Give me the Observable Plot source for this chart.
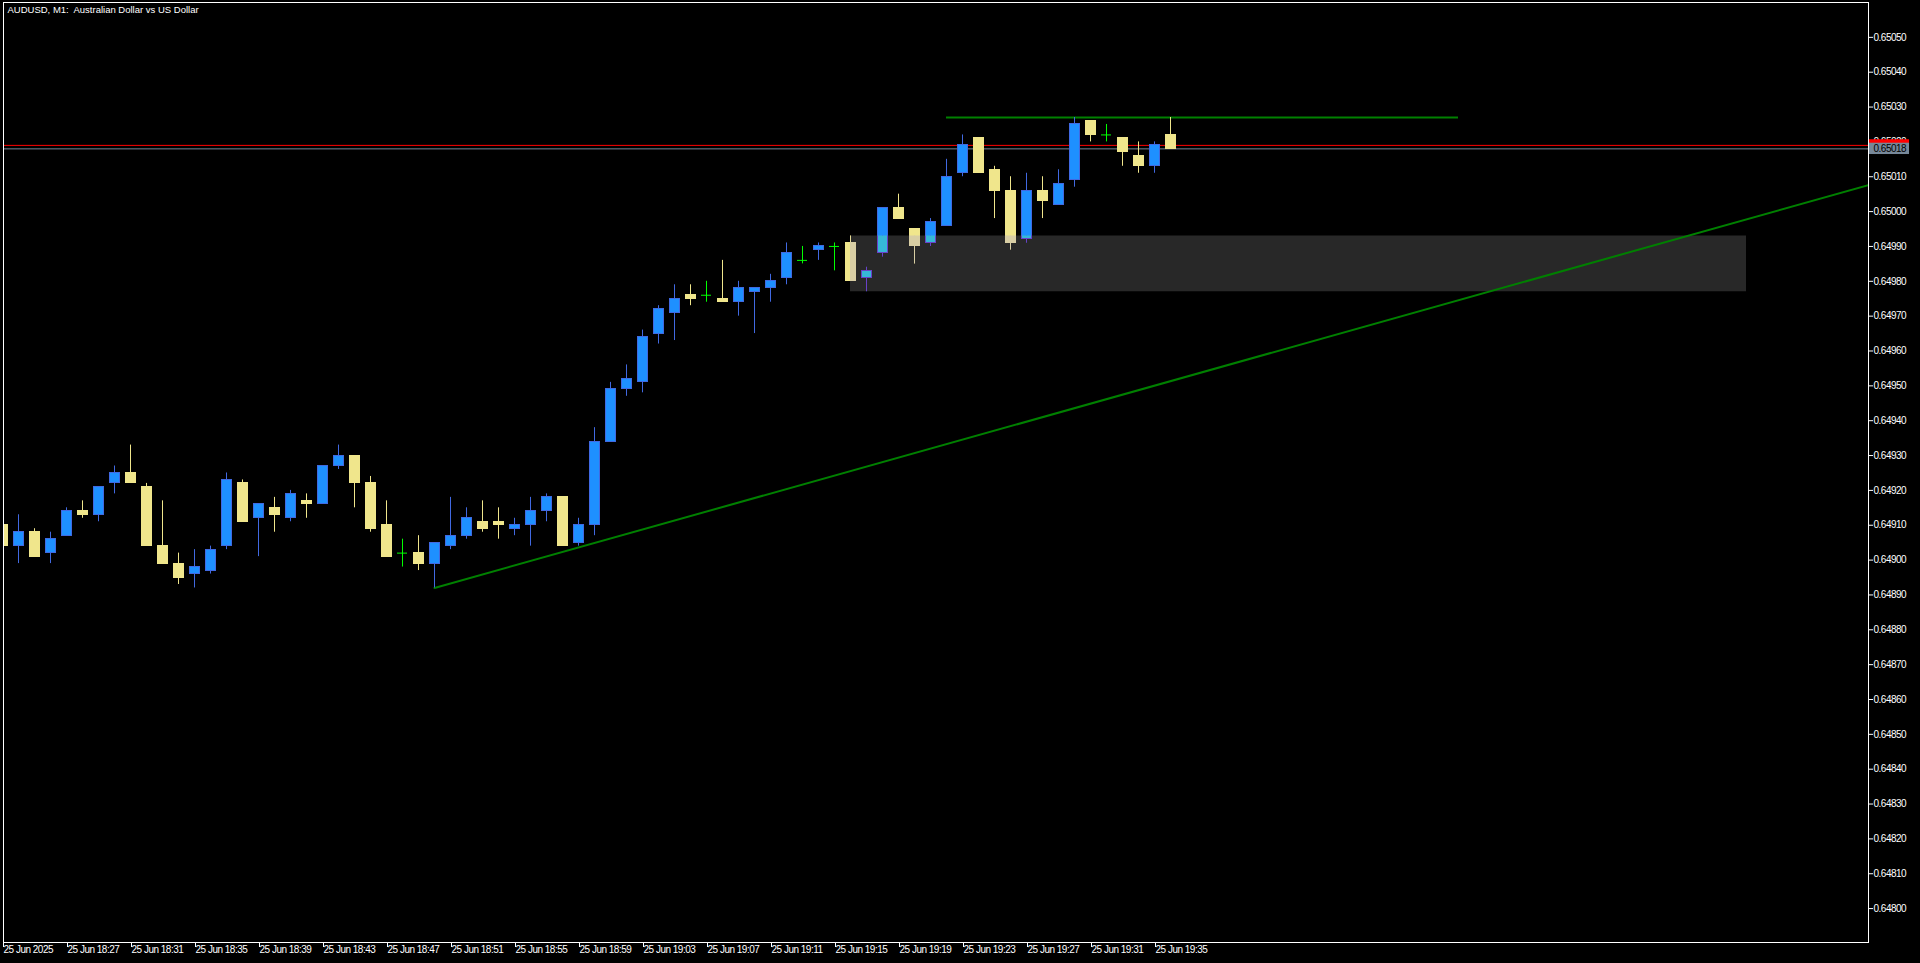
<!DOCTYPE html>
<html><head><meta charset="utf-8">
<script src="https://cdn.jsdelivr.net/npm/d3@7"></script>
<script src="https://cdn.jsdelivr.net/npm/@observablehq/plot@0.6"></script>
<style>
html,body{margin:0;padding:0;background:#000;overflow:hidden}
#chart svg{display:block}
#chart g[aria-label="y-axis tick label"] text,
#chart g[aria-label="x-axis tick label"] text,
#chart g[aria-description="bid-label"] text{letter-spacing:-0.5px}
</style></head><body><div id="chart"></div>
<script>
// ---------- data ----------
const symbolTitle = "AUDUSD, M1:\u00A0 Australian Dollar vs US Dollar";
const firstBar = "18:23";           // M1 bars, one per minute from here
const openPts  = [64910,64904,64908,64902,64907,64914,64913,64922,64925,64921,64904,64899,64896,64897,64904,64922,64912,64915,64912,64917,64916,64927,64930,64922,64910,64902,64902,64899,64904,64907,64911,64911,64909,64910,64914,64918,64905,64910,64934,64949,64951,64965,64971,64976,64976,64975,64974,64977,64978,64981,64986,64989,64990,64991,64981,64988,65001,64995,64991,64996,65011,65021,65012,65006,64992,65006,65002,65009,65026,65022,65021,65016,65013,65022];
const highPts  = [64912,64913,64909,64908,64915,64917,64921,64927,64933,64922,64917,64902,64903,64904,64925,64923,64916,64918,64920,64919,64927,64933,64930,64924,64917,64906,64907,64905,64918,64915,64917,64915,64912,64918,64919,64918,64912,64938,64951,64956,64966,64973,64979,64979,64980,64986,64980,64978,64982,64991,64990,64991,64991,64993,64984,65001,65005,64995,64998,65015,65022,65021,65013,65010,65011,65010,65012,65027,65026,65025,65021,65020,65020,65027];
const lowPts   = [64903,64899,64901,64899,64907,64912,64911,64919,64922,64904,64899,64893,64892,64896,64903,64911,64901,64908,64911,64912,64916,64926,64915,64908,64901,64898,64897,64892,64903,64906,64908,64906,64907,64904,64911,64904,64904,64907,64934,64947,64948,64962,64963,64973,64974,64974,64970,64965,64974,64979,64985,64986,64983,64980,64977,64987,64998,64985,64990,64996,65010,65011,64998,64989,64991,64998,65002,65007,65020,65020,65013,65011,65011,65018];
const closePts = [64904,64908,64901,64906,64914,64913,64921,64925,64922,64904,64899,64895,64898,64903,64923,64911,64916,64913,64919,64916,64927,64930,64922,64909,64901,64902,64899,64905,64907,64912,64909,64910,64910,64914,64918,64904,64910,64934,64949,64952,64964,64972,64975,64975,64976,64974,64978,64978,64980,64988,64986,64990,64990,64980,64983,65001,64998,64990,64997,65010,65019,65011,65006,64991,65006,65003,65008,65025,65022,65022,65017,65013,65019,65018];
const bidPrice = 0.65018;
const askPrice = 0.65019;
const trendAnchors = [{time: "18:50", price: 0.64892}, {time: "20:20", price: 0.650081}];
const resistance = {from: "19:22", to: "19:54", price: 0.65027};
const zone = {from: "19:16", to: "20:12", low: 0.64977, high: 0.64993};
const xTickTimes  = ["18:23","18:27","18:31","18:35","18:39","18:43","18:47","18:51","18:55","18:59","19:03","19:07","19:11","19:15","19:19","19:23","19:27","19:31","19:35"];
const xTickLabels = ["25 Jun 2025","25 Jun 18:27","25 Jun 18:31","25 Jun 18:35","25 Jun 18:39","25 Jun 18:43","25 Jun 18:47","25 Jun 18:51","25 Jun 18:55","25 Jun 18:59","25 Jun 19:03","25 Jun 19:07","25 Jun 19:11","25 Jun 19:15","25 Jun 19:19","25 Jun 19:23","25 Jun 19:27","25 Jun 19:31","25 Jun 19:35"];
const yTickLabels = ["0.64800","0.64810","0.64820","0.64830","0.64840","0.64850","0.64860","0.64870","0.64880","0.64890","0.64900","0.64910","0.64920","0.64930","0.64940","0.64950","0.64960","0.64970","0.64980","0.64990","0.65000","0.65010","0.65020","0.65030","0.65040","0.65050"];

// ---------- styles / layout ----------
const C = {bg:"#000000", up:"#1E90FF", upLine:"#4169E1", down:"#F0E68C", doji:"#00FF00",
           zone:"#282828", green:"#008000", ask:"#FF0000", bid:"#778899", fg:"#FFFFFF"};
const xorTint = hex => "#" + [1,3,5].map(k => (parseInt(hex.slice(k,k+2),16) ^ 0x28).toString(16).padStart(2,"0")).join("");
const T = {up: xorTint(C.up), upLine: xorTint(C.upLine), down: xorTint(C.down), doji: xorTint(C.doji)};

const at = hhmm => new Date(`2025-06-25T${hhmm}:00Z`);
const t0 = at(firstBar);
const viewStart = new Date("2025-06-25T18:23:03.750Z");
const viewEnd   = new Date("2025-06-25T20:19:37.500Z");
const yDomain = [0.6479027, 0.6506];
const HW = 18750; // half body width (ms)
const labelX1 = new Date(+viewEnd + 3750), labelX2 = new Date(+viewEnd + 153750);
const labelHalf = 0.0000162;

const bars = openPts.map((o,i) => ({t: d3.utcMinute.offset(t0, i), o: o/1e5, h: highPts[i]/1e5, l: lowPts[i]/1e5, c: closePts[i]/1e5}));
const up = bars.filter(d => d.c > d.o), down = bars.filter(d => d.c < d.o), doji = bars.filter(d => d.c === d.o);
const bl = d => new Date(+d.t - HW), br = d => new Date(+d.t + HW);

function candleMarks(c, extra) {
  return [
    Plot.ruleX(up,   {x:"t", y1:"l", y2:"h", stroke:c.upLine, ...extra}),
    Plot.ruleX(down, {x:"t", y1:"l", y2:"h", stroke:c.down, ...extra}),
    Plot.rect(up,   {x1:bl, x2:br, y1:"o", y2:"c", fill:c.up, stroke:c.upLine, shapeRendering:"crispEdges", ...extra}),
    Plot.rect(down, {x1:bl, x2:br, y1:"o", y2:"c", fill:c.down, stroke:c.down, shapeRendering:"crispEdges", ...extra}),
    Plot.ruleX(doji, {x:"t", y1:"l", y2:"h", stroke:c.doji, ...extra}),
    Plot.ruleY(doji, {y:"o", x1:bl, x2:br, stroke:c.doji, ...extra})
  ];
}

const xLabelMap = new Map(xTickTimes.map((s,i) => [+at(s), xTickLabels[i]]));

const plot = Plot.plot({
  width: 1920, height: 963,
  marginLeft: 3, marginRight: 52, marginTop: 2, marginBottom: 21,
  x: {type: "utc", domain: [viewStart, viewEnd]},
  y: {domain: yDomain},
  style: {background: C.bg, color: C.fg, fontFamily: "'Liberation Sans', Arial, sans-serif", fontSize: "10px"},
  marks: [
    Plot.rect([zone], {x1: d => at(d.from), x2: d => at(d.to), y1: "low", y2: "high", fill: C.zone}),
    Plot.line(trendAnchors, {x: d => at(d.time), y: "price", stroke: C.green, strokeWidth: 2, clip: true}),
    Plot.ruleY([resistance], {y: "price", x1: d => at(d.from), x2: d => at(d.to), stroke: C.green, strokeWidth: 2}),
    Plot.ruleY([askPrice], {stroke: C.ask}),
    Plot.ruleY([bidPrice], {stroke: C.bid}),
    ...candleMarks({up:C.up, upLine:C.upLine, down:C.down, doji:C.doji}, {clip: true}),
    ...candleMarks(T, {ariaDescription: "zone-tint"}),
    Plot.frame({stroke: C.fg}),
    Plot.axisY(yTickLabels.map(Number), {anchor: "right", tickSize: 4, tickPadding: 1, tickFormat: d => d.toFixed(5), label: null, fill: C.fg, stroke: C.fg, fontSize: 10}),
    Plot.axisX(xTickTimes.map(at), {anchor: "bottom", tickSize: 5, tickPadding: -2, textAnchor: "start", dx: 1, tickFormat: d => xLabelMap.get(+d), label: null, fill: C.fg, stroke: C.fg, fontSize: 10}),
    Plot.rect([askPrice], {x1: labelX1, x2: labelX2, y1: d => d - labelHalf, y2: d => d + labelHalf, fill: C.ask}),
    Plot.rect([bidPrice], {x1: labelX1, x2: labelX2, y1: d => d - labelHalf, y2: d => d + labelHalf, fill: C.bid}),
    Plot.text([bidPrice], {x: viewEnd, y: d => d, text: d => d.toFixed(5), textAnchor: "start", dx: 5, fill: "#000000", fontSize: 10, ariaDescription: "bid-label"}),
    Plot.text([symbolTitle], {frameAnchor: "top-left", text: d => d, dx: 4, dy: 4, lineAnchor: "top", fill: C.fg, fontSize: 9.5})
  ]
});

// clip the tinted copy of the candles to the zone rectangle
const sx = plot.scale("x"), sy = plot.scale("y");
const svg = d3.select(plot);
const zx1 = sx.apply(at(zone.from)), zx2 = sx.apply(at(zone.to));
const zy1 = sy.apply(zone.high), zy2 = sy.apply(zone.low);
svg.insert("defs", ":first-child").append("clipPath").attr("id", "zoneClip")
  .append("rect").attr("x", zx1).attr("y", zy1).attr("width", zx2 - zx1).attr("height", zy2 - zy1);
svg.selectAll('g[aria-description="zone-tint"]').attr("clip-path", "url(#zoneClip)");

document.getElementById("chart").appendChild(plot);
</script></body></html>
